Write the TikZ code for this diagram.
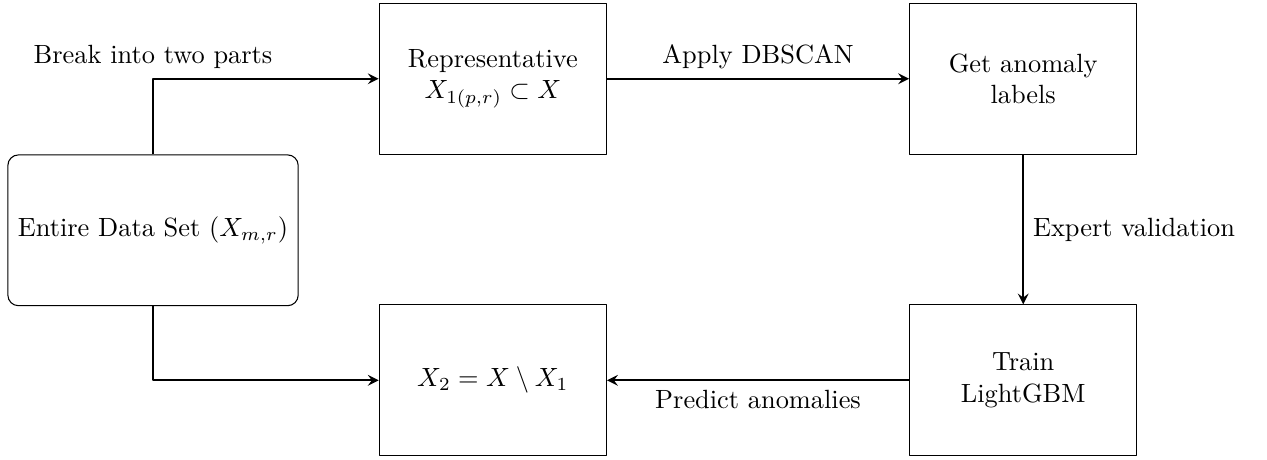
\documentclass[tikz,border=0pt]{standalone}
\tikzset{
  stage/.style={draw, minimum width=3.03cm, minimum height=2.01cm, align=center, inner sep=2pt},
  flow/.style={->, thick},
}
\begin{document}
\begin{tikzpicture}[line join=round, >=stealth]
  \useasboundingbox (0,0) rectangle (16.89,-6.12);
  % boxes
  \node[stage, rounded corners, minimum width=3.87cm] (data) at (2.04,-3.07) {Entire Data Set $(X_{m,r})$};
  \node[stage] (repr) at (6.57,-1.05) {Representative\\ $X_{1(p,r)}\subset X$};
  \node[stage] (labels) at (13.64,-1.05) {Get anomaly\\ labels};
  \node[stage] (train) at (13.64,-5.07) {Train\\ LightGBM};
  \node[stage] (rest) at (6.57,-5.07) {$X_2=X\setminus X_1$};
  % arrows
  \draw[flow] (data.north) |- node[pos=0.5, above]{Break into two parts} (repr.west);
  \draw[flow] (data.south) |- (rest.west);
  \draw[flow] (repr) -- node[above]{Apply DBSCAN} (labels);
  \draw[flow] (labels) -- node[right]{Expert validation} (train);
  \draw[flow] (train) -- node[below]{Predict anomalies} (rest);
\end{tikzpicture}
\end{document}
